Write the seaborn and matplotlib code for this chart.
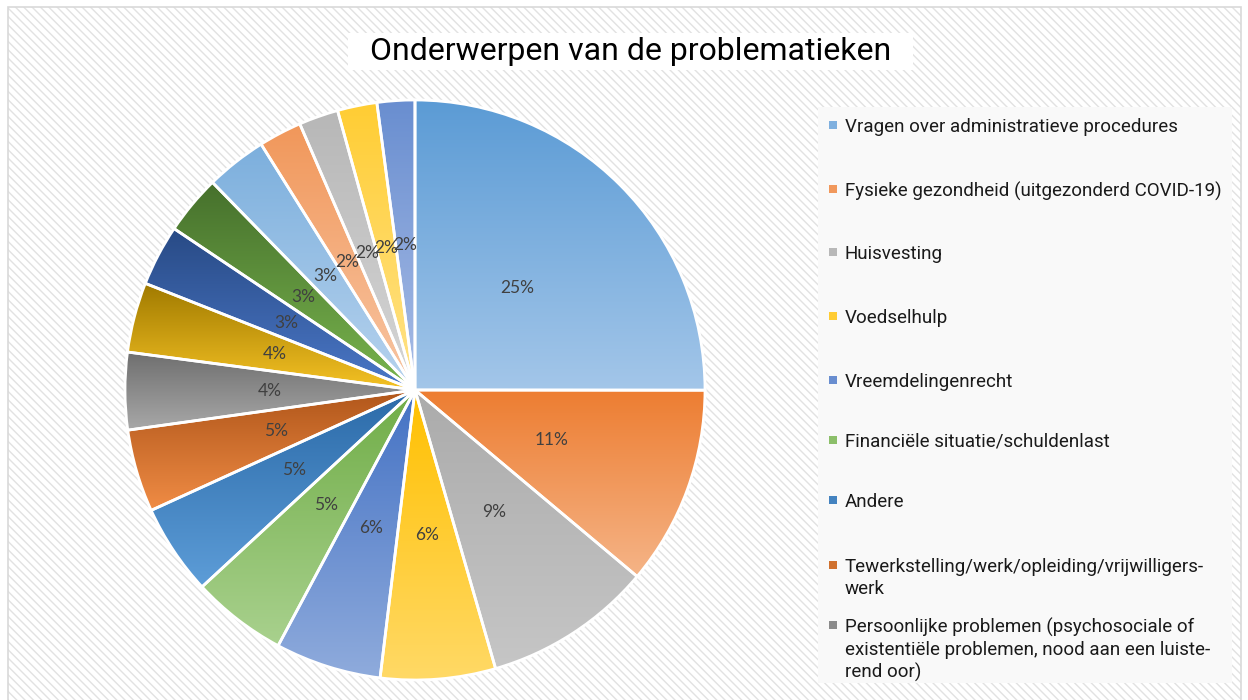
import numpy as np
import matplotlib
matplotlib.use("Agg")
import matplotlib.pyplot as plt
from matplotlib.patches import Rectangle
from matplotlib.colors import LinearSegmentedColormap
import seaborn as sns

# aandelen per onderwerp (%), met de klok mee vanaf boven
aandelen = [25.0, 11.1, 9.4, 6.4, 5.9, 5.3, 5.06, 4.6, 4.3, 3.9,
            3.4, 3.3, 3.4, 2.4, 2.2, 2.2, 2.1]

# alleen de eerste negen staan in de legende
onderwerpen = [
    "Vragen over administratieve procedures",
    "Fysieke gezondheid (uitgezonderd COVID-19)",
    "Huisvesting",
    "Voedselhulp",
    "Vreemdelingenrecht",
    "Financiële situatie/schuldenlast",
    "Andere",
    "Tewerkstelling/werk/opleiding/vrijwilligers-\nwerk",
    "Persoonlijke problemen (psychosociale of\nexistentiële problemen, nood aan een luiste-\nrend oor)",
]

# verloop boven (donker) -> onder (licht)
kleur_boven = ["#5b9bd5", "#ed7d31", "#ababab", "#ffc000", "#4472c4", "#70ad47",
               "#2b6aa8", "#b0561a", "#6e6e6e", "#a07a00", "#284a85", "#46702c",
               "#7cafdd", "#f1975a", "#b7b7b7", "#ffcd33", "#698ed0"]
kleur_onder = ["#a3c6e9", "#f5b487", "#c6c6c6", "#ffd966", "#8fabdc", "#a9d18e",
               "#5d9dd8", "#f08c45", "#a8a8a8", "#f5c224", "#4b78c8", "#79b54e",
               "#b7d3ee", "#f8c6a4", "#d6d6d6", "#ffe38a", "#a9bde6"]

sns.set_theme(style="white")
plt.rcParams["font.family"] = ["Roboto", "DejaVu Sans"]
plt.rcParams["hatch.linewidth"] = 1.0

W, H = 1248, 700
fig = plt.figure(figsize=(W / 100, H / 100), dpi=100)
fig.patch.set_facecolor("white")

# achtergrond met arcering en kader
fig.patches.append(Rectangle((8 / W, 0), 1233 / W, 693 / H, transform=fig.transFigure,
                             facecolor="white", edgecolor="#e2e2e2", hatch="\\\\\\\\",
                             linewidth=0, zorder=-3))
fig.patches.append(Rectangle((8 / W, -0.01), 1233 / W, 693 / H + 0.01, transform=fig.transFigure,
                             fill=False, edgecolor="#d9d9d9", linewidth=1.2, zorder=-2))

# titel in wit vak
fig.patches.append(Rectangle((348 / W, 1 - 70 / H), 565 / W, 37 / H, transform=fig.transFigure,
                             facecolor="white", edgecolor="none", zorder=2))
fig.text(631 / W, 1 - 52 / H, "Onderwerpen van de problematieken", ha="center", va="center",
         fontsize=23, color="#000000", zorder=3)

# taart
ax = fig.add_axes([125 / W, 20 / H, 580 / W, 580 / H])
ax.set_zorder(5)
ax.set_facecolor("none")
wedges, _, pcts = ax.pie(aandelen, startangle=90, counterclock=False, autopct="%.0f%%",
                         pctdistance=0.5, radius=1.0,
                         wedgeprops=dict(edgecolor="white", linewidth=2),
                         textprops=dict(color="#404040", fontsize=12.5, family=["Lato", "DejaVu Sans"]))

verloop = np.linspace(0, 1, 256).reshape(-1, 1)
for w, top, bot in zip(wedges, kleur_boven, kleur_onder):
    t = np.radians(np.linspace(w.theta1, w.theta2, 100))
    xs = np.concatenate([[w.center[0]], w.center[0] + w.r * np.cos(t)])
    ys = np.concatenate([[w.center[1]], w.center[1] + w.r * np.sin(t)])
    cmap = LinearSegmentedColormap.from_list("g", [bot, top])
    im = ax.imshow(verloop, cmap=cmap, origin="lower", aspect="auto",
                   extent=[xs.min(), xs.max(), ys.min(), ys.max()], zorder=1)
    im.set_clip_path(w)
    w.set_facecolor("none")
    w.set_zorder(2)
for p in pcts:
    p.set_zorder(4)

ax.set_xlim(-1.0, 1.0)
ax.set_ylim(-1.0, 1.0)
ax.set_aspect("equal")
ax.axis("off")

# legende
fig.patches.append(Rectangle((818 / W, 1 - 683 / H), 414 / W, 576 / H, transform=fig.transFigure,
                             facecolor="#f9f9f9", edgecolor="none", zorder=2))
rij_y = [125, 189, 252, 316, 380, 440, 500, 565, 625]
for label, top, bot, y in zip(onderwerpen, kleur_boven, kleur_onder, rij_y):
    mid = LinearSegmentedColormap.from_list("m", [bot, top])(0.5)
    fig.patches.append(Rectangle((829 / W, 1 - (y + 4) / H), 8 / W, 8 / H,
                                 transform=fig.transFigure, facecolor=mid,
                                 edgecolor="none", zorder=3))
    fig.text(845 / W, 1 - (y - 7) / H, label, ha="left", va="top", fontsize=13.5,
             color="#1a1a1a", linespacing=1.27, zorder=3)

fig.savefig("out.png", dpi=100)
